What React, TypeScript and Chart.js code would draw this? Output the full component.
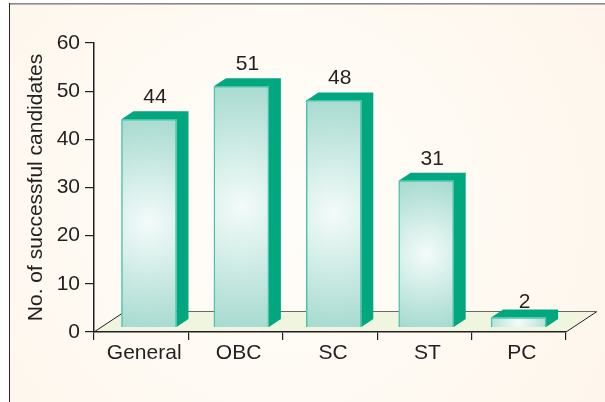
import React, { useEffect, useRef } from "react";
import { Chart, registerables } from "chart.js";

Chart.register(...registerables);

const categories = ["General", "OBC", "SC", "ST", "PC"];
const candidates = [44, 51, 48, 31, 2];
const yTitle = "No. of successful candidates";

const INK = "#231f20";
const FONT = "'Liberation Sans', Arial, sans-serif";
const DEPTH_X = 12;
const DEPTH_Y = 8;

const scenePlugin = {
  id: "scene",
  beforeDraw(chart: any) {
    const { ctx, chartArea } = chart;
    const { left, right, bottom } = chartArea;
    ctx.save();
    const g = ctx.createRadialGradient(280, 210, 20, 280, 210, 430);
    g.addColorStop(0, "#fffdf9");
    g.addColorStop(1, "#fef5ea");
    ctx.fillStyle = g;
    ctx.fillRect(9, 4, 596, 398);
    ctx.fillStyle = "#8a8a8a";
    ctx.fillRect(9, 3, 596, 1.6);
    ctx.fillStyle = "#2a2a2a";
    ctx.fillRect(9, 3, 1, 399);
    // floor
    const backY = bottom - 20.5;
    ctx.beginPath();
    ctx.moveTo(left, bottom);
    ctx.lineTo(right, bottom);
    ctx.lineTo(right + 31, backY);
    ctx.lineTo(left + 31, backY);
    ctx.closePath();
    ctx.fillStyle = "#f0f5e0";
    ctx.fill();
    ctx.strokeStyle = INK;
    ctx.lineWidth = 1;
    ctx.beginPath();
    ctx.moveTo(left, bottom);
    ctx.lineTo(left + 31, backY);
    ctx.moveTo(right, bottom);
    ctx.lineTo(right + 31, backY);
    ctx.stroke();
    ctx.strokeStyle = "#6b6b5e";
    ctx.beginPath();
    ctx.moveTo(left + 31, backY);
    ctx.lineTo(right + 31, backY);
    ctx.stroke();
    ctx.restore();
  },
  beforeDatasetsDraw(chart: any) {
    const { ctx } = chart;
    ctx.save();
    chart.getDatasetMeta(0).data.forEach((bar: any) => {
      const r = bar.x + bar.width / 2;
      const l = bar.x - bar.width / 2;
      ctx.fillStyle = "#00a77f";
      ctx.beginPath();
      ctx.moveTo(l, bar.y);
      ctx.lineTo(l + DEPTH_X, bar.y - DEPTH_Y);
      ctx.lineTo(r + DEPTH_X, bar.y - DEPTH_Y);
      ctx.lineTo(r + DEPTH_X, bar.base - DEPTH_Y);
      ctx.lineTo(r, bar.base);
      ctx.lineTo(r, bar.y);
      ctx.closePath();
      ctx.fill();
    });
    ctx.restore();
  },
  afterDatasetsDraw(chart: any) {
    const { ctx } = chart;
    ctx.save();
    ctx.fillStyle = INK;
    ctx.font = `21px ${FONT}`;
    ctx.textAlign = "center";
    ctx.textBaseline = "alphabetic";
    chart.getDatasetMeta(0).data.forEach((bar: any, i: number) => {
      const v = candidates[i];
      const gap = v < 5 ? 2 : 8;
      ctx.fillText(String(v), bar.x + 6, bar.y - DEPTH_Y - gap);
    });
    ctx.restore();
  },
};

export default function App() {
  const ref = useRef<HTMLCanvasElement>(null);
  useEffect(() => {
    const chart = new Chart(ref.current as HTMLCanvasElement, {
      type: "bar",
      plugins: [scenePlugin],
      data: {
        labels: categories,
        datasets: [
          {
            data: candidates.map((y, x) => ({ x, y })),
            xAxisID: "xb",
            yAxisID: "yb",
            barThickness: 55,
            borderWidth: 1.5,
            borderColor: "#4cc4a8",
            backgroundColor: (c: any) => {
              const ch = c.chart;
              const area = ch.chartArea;
              if (!area || !ch.scales.xb) return "#c5e6df";
              const cx = ch.scales.xb.getPixelForValue(c.dataIndex);
              const top = ch.scales.yb.getPixelForValue(candidates[c.dataIndex]);
              const base = ch.scales.yb.getPixelForValue(0);
              const cy = top + (base - top) * 0.5;
              const rad = Math.max(40, (base - top) * 0.6);
              const g = ch.ctx.createRadialGradient(cx, cy, 1, cx, cy, rad);
              g.addColorStop(0, "#f3fbf9");
              g.addColorStop(1, "#9ad5c9");
              return g;
            },
          },
        ],
      },
      options: {
        animation: false,
        responsive: false,
        layout: { padding: { top: 43, right: 39, bottom: 0, left: 0 } },
        plugins: { legend: { display: false }, tooltip: { enabled: false } },
        scales: {
          x: {
            offset: true,
            afterFit: (s: any) => {
              s.height = 70;
            },
            border: { color: INK, width: 1.5 },
            grid: {
              offset: true,
              drawOnChartArea: false,
              color: INK,
              tickLength: 8,
              lineWidth: 1.2,
            },
            ticks: {
              color: INK,
              padding: 1,
              labelOffset: 3,
              font: { size: 21, family: FONT },
              maxRotation: 0,
            },
          },
          xb: { type: "linear", display: false, offset: false, min: -0.595, max: 4.513 },
          y: {
            min: 0,
            max: 60,
            afterFit: (s: any) => {
              s.width = 94;
            },
            border: { color: INK, width: 1.5 },
            grid: {
              drawOnChartArea: false,
              color: INK,
              tickLength: 9,
              lineWidth: 1.2,
            },
            ticks: {
              stepSize: 10,
              color: INK,
              padding: 5,
              font: { size: 21, family: FONT },
            },
            title: {
              display: true,
              text: yTitle,
              color: INK,
              font: { size: 21, family: FONT },
              padding: { top: 24, bottom: 0 },
            },
          },
          yb: { display: false, min: -1.06, max: 60.17 },
        },
      },
    } as any);
    return () => chart.destroy();
  }, []);
  return (
    <div style={{ position: "fixed", left: 0, top: 0 }}>
      <canvas ref={ref} width={605} height={402} style={{ display: "block" }} />
    </div>
  );
}
